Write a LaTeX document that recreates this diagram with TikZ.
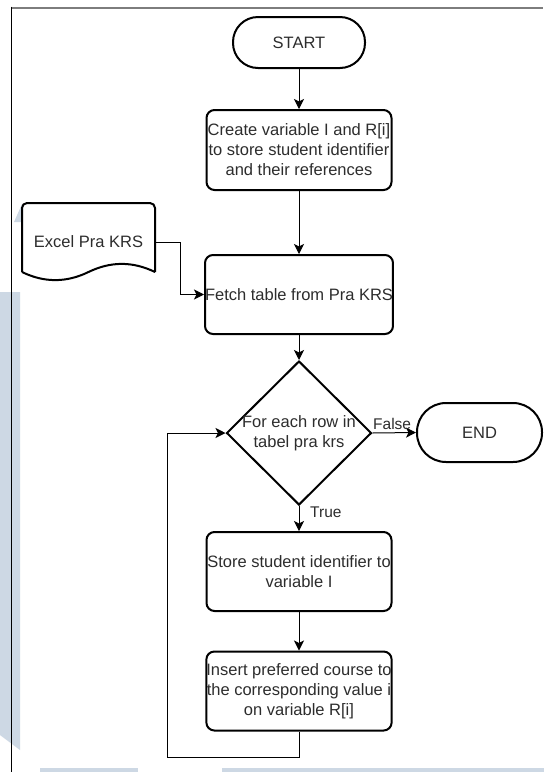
\documentclass[tikz,border=0pt]{standalone}
\usepackage{fontspec}
\setmainfont{Liberation Sans}
\usetikzlibrary{arrows.meta,shapes.geometric,calc}
\definecolor{wmark}{RGB}{205,216,228}
\definecolor{framegray}{RGB}{125,125,125}
\definecolor{txt}{RGB}{45,45,45}
\begin{document}
\begin{tikzpicture}[x=1pt,y=-1pt,
  every node/.style={font=\fontsize{16.5}{20}\selectfont, text=txt},
  box/.style={draw=black, line width=2pt, rounded corners=8pt,
    minimum width=185pt, minimum height=79pt, inner sep=0pt, align=center},
  terminal/.style={draw=black, line width=2pt, inner sep=0pt, align=center},
  decision/.style={diamond, draw=black, line width=2pt, inner sep=0pt,
    minimum width=145pt, minimum height=144pt},
  docshape/.style={draw=black, line width=2pt, line join=round},
  flow/.style={draw=black, line width=1pt,
    -{Stealth[length=10pt,width=10pt,inset=2.5pt]}},
  lbl/.style={inner sep=0pt, font=\fontsize{15.5}{18}\selectfont}
]
% page
\fill[white] (0,0) rectangle (544,772);
\useasboundingbox (0,0) rectangle (544,772);

% light watermark shapes behind the chart
\fill[wmark] (0,292) -- (20,292) -- (20,750) -- (0,735) -- cycle;
\fill[wmark] (14,222) -- (22,204) -- (22,222) -- cycle;
\fill[wmark] (40,768) -- (138,768) -- (138,772) -- (40,772) -- cycle;
\fill[wmark] (222,768) -- (544,768) -- (544,772) -- (222,772) -- cycle;

% page frame
\draw[framegray, line width=2pt] (11,7.5) -- (543,7.5);
\draw[black, line width=1pt] (11.5,6.5) -- (11.5,772);

% nodes
\node[terminal, minimum width=132pt, minimum height=51pt, rounded corners=25pt]
  (start) at (299,42.5) {START};
\node[box, minimum height=80pt] (create) at (299,150)
  {Create variable I and R[i]\\to store student identifier\\and their references};
\node[minimum width=133pt, minimum height=78pt, inner sep=0pt] (doc) at (88.5,242)
  {Excel Pra KRS};
\node[box] (fetch) at (299,294.5) {Fetch table from Pra KRS};
\node[decision] (dec) at (299,433) {};
\node[align=center] at (dec) {For each row in\\tabel pra krs};
\node[terminal, minimum width=125pt, minimum height=59pt, rounded corners=29pt]
  (end) at (479.5,432.5) {END};
\node[box] (store) at (299,571.5) {Store student identifier to\\variable I};
\node[box] (insert) at (299,691) {Insert preferred course to\\the corresponding value i\\on variable R[i]};

% document outline with wavy bottom
\draw[docshape, rounded corners=5pt] (22,272) -- (22,203) -- (155,203) -- (155,272);
\draw[docshape] (155,272) .. controls (132.8,261.2) and (110.7,261.2) .. (88.5,272)
  .. controls (66.3,282.8) and (44.2,282.8) .. (22,272);

% connectors
\coordinate (docbend) at (180,242);
\coordinate (loopB) at (167,757);
\draw[flow] (start) -- (create);
\draw[flow] (create) -- (fetch);
\draw[flow] (doc.east) -- (docbend) |- (fetch.west);
\draw[flow] (fetch) -- (dec);
\draw[flow] (dec.east) -- (end.west);
\draw[flow] (dec.south) -- (store.north);
\draw[flow] (store) -- (insert);
\draw[flow] (insert.south) |- (loopB) |- (dec.west);

% branch labels
\node[lbl, anchor=base west] at (373,429) {False};
\node[lbl, anchor=base west] at (310,517.5) {True};
\end{tikzpicture}
\end{document}
